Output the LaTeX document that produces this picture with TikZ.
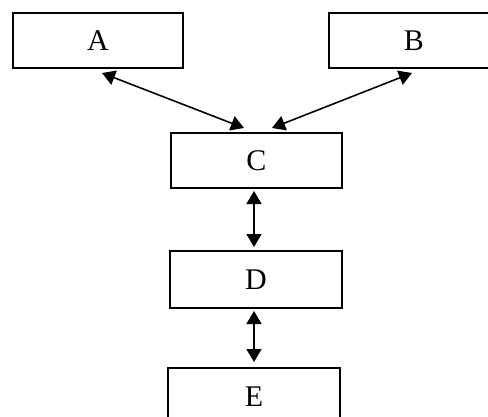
\documentclass[tikz,border=0pt]{standalone}
\usepackage{fontspec}
\setmainfont{Liberation Serif}
\usetikzlibrary{arrows.meta,calc}
\begin{document}
\begin{tikzpicture}[x=1pt,y=-1pt,
  box/.style={draw=black,line width=2pt,fill=white,rectangle,inner sep=0pt,
    font=\fontsize{30}{34}\selectfont,text depth=-3pt},
  link/.style={line width=1.6pt,{Triangle[length=13pt,width=15pt]}-{Triangle[length=13pt,width=15pt]}}]
\useasboundingbox (0,0) rectangle (488,416);
\clip (0,0) rectangle (488,416);
\fill[white] (0,0) rectangle (488,416);
\node[box,minimum width=170pt,minimum height=55pt] (A) at (98,40.5) {A};
\node[box,minimum width=170pt,minimum height=55pt] (B) at (414,40.5) {B};
\node[box,minimum width=171pt,minimum height=55pt] (C) at (256.5,160.5) {C};
\node[box,minimum width=172pt,minimum height=57pt] (D) at (256,279.5) {D};
\node[box,minimum width=172pt,minimum height=57pt] (E) at (254,396.5) {E};
\draw[link] ($(A.south west)+(90,4)$) -- ($(C.north west)+(74,-4)$);
\draw[link] ($(B.south west)+(84,4)$) -- ($(C.north west)+(102,-4)$);
\draw[link] ($(C.south)+(-2.5,2)$) -- ($(D.north)+(-2,-3)$);
\draw[link] ($(D.south)+(-2,2)$) -- ($(E.north)+(0,-5)$);
\end{tikzpicture}
\end{document}
